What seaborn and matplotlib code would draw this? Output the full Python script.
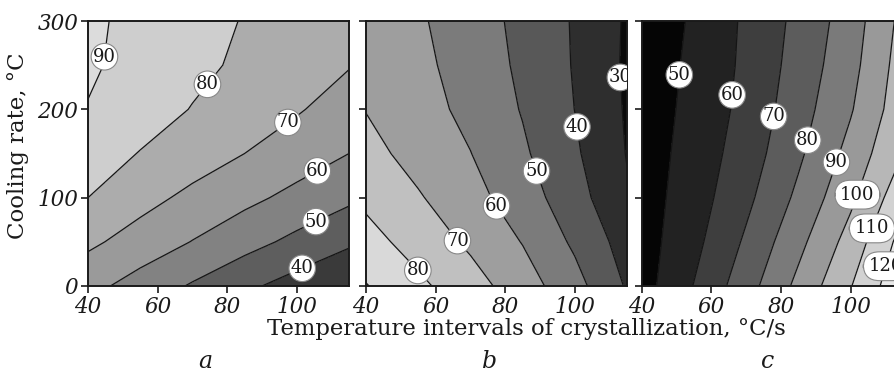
import numpy as np
import matplotlib
matplotlib.use('Agg')
import matplotlib.pyplot as plt
import seaborn as sns

# grid: temperature interval (x) and cooling rate (y)
temp_x = [40, 55, 70, 85, 100, 115]
cool_y = [0, 50, 100, 150, 200, 250, 300]

# panel a values, one row per cooling rate
z_a = [
    [63.0, 56.0, 49.0, 42.0, 36.0, 31.0],
    [72.0, 65.8, 59.7, 53.6, 47.5, 41.5],
    [80.0, 73.4, 67.6, 62.5, 57.3, 52.0],
    [85.0, 79.6, 75.0, 70.0, 65.0, 60.0],
    [89.7, 84.6, 79.6, 75.1, 70.9, 65.5],
    [91.0, 87.6, 82.5, 78.2, 74.4, 70.5],
    [91.5, 87.8, 83.5, 79.5, 76.5, 74.0],
]
# panel b
z_b = [
    [90.5, 82.1, 74.1, 64.7, 53.5, 39.0],
    [83.6, 76.0, 68.2, 59.6, 48.3, 35.7],
    [77.9, 70.9, 63.5, 54.7, 44.1, 31.0],
    [73.2, 66.5, 60.2, 51.5, 41.4, 29.6],
    [69.7, 63.9, 57.4, 49.4, 39.9, 29.0],
    [68.8, 62.5, 55.7, 48.2, 39.3, 28.5],
    [68.0, 61.3, 54.6, 47.5, 39.1, 28.8],
]
# panel c
z_c = [
    [45.9, 60.3, 75.8, 92.5, 109.5, 128.0],
    [45.5, 57.3, 71.5, 87.2, 103.9, 123.6],
    [45.3, 55.3, 67.6, 82.1, 97.9, 116.7],
    [44.8, 54.1, 64.8, 78.2, 93.2, 110.0],
    [44.1, 53.1, 62.9, 75.7, 89.1, 106.2],
    [43.2, 52.4, 62.0, 73.9, 86.6, 104.6],
    [41.8, 51.6, 61.6, 72.6, 84.9, 102.9],
]

levels_a = [40, 50, 60, 70, 80, 90]
levels_b = [30, 40, 50, 60, 70, 80, 90]
levels_c = [50, 60, 70, 80, 90, 100, 110, 120]
labels_b = [30, 40, 50, 60, 70, 80]

x_ticks = [40, 60, 80, 100]
y_ticks = [0, 100, 200, 300]
panel_names = ['a', 'b', 'c']

sns.set_theme(style='ticks')
plt.rcParams['font.family'] = ['DejaVu Serif']

fills = {
    'a': ['#3a3a3a', '#5e5e5e', '#828282', '#9a9a9a', '#acacac', '#cecece', '#dcdcdc'],
    'b': ['#0a0a0a', '#2e2e2e', '#585858', '#7b7b7b', '#9e9e9e', '#c0c0c0', '#d9d9d9', '#e6e6e6'],
    'c': ['#050505', '#222222', '#3e3e3e', '#5c5c5c', '#7a7a7a', '#999999', '#b7b7b7', '#d2d2d2', '#e8e8e8'],
}
# where the circled labels sit (data coords)
label_pos = {
    'a': [(45.8, 259), (75.7, 224), (98, 182), (106.5, 126), (106.2, 67), (102, 16)],
    'b': [(55, 18), (66.5, 52), (78, 92), (88.9, 130), (100.4, 180), (112.5, 236)],
    'c': [(53.6, 238), (66.9, 216), (77.9, 192), (87.8, 165), (96.1, 140),
          (102.3, 103), (107.6, 63), (108.8, 24)],
}

fig = plt.figure(figsize=(8.95, 3.74), dpi=100)
lefts = [88 / 895, 366 / 895, 641.7 / 895]
X, Y = np.meshgrid(temp_x, cool_y)

panels = [(z_a, levels_a, levels_a), (z_b, levels_b, labels_b), (z_c, levels_c, levels_c)]
for i, (z, lev, lab_lev) in enumerate(panels):
    name = panel_names[i]
    ax = fig.add_axes([lefts[i], 88 / 374, 261 / 895, 265 / 374])
    Z = np.array(z)
    bounds = [0] + lev + [200]
    ax.contourf(X, Y, Z, levels=bounds, colors=fills[name])
    cs = ax.contour(X, Y, Z, levels=lev, colors='#151515', linewidths=0.9)
    txts = ax.clabel(cs, levels=lab_lev, inline=False, fmt='%d', fontsize=13,
                     manual=label_pos[name], colors='k')
    for t in txts:
        t.set_rotation(0)
        if len(t.get_text()) > 2:
            t.set_bbox(dict(boxstyle='round,pad=0.3,rounding_size=0.9',
                            fc='white', ec='#888888', lw=0.8))
        else:
            t.set_bbox(dict(boxstyle='circle,pad=0.1', fc='white', ec='#888888', lw=0.8))
    ax.set_xlim(40, 115)
    ax.set_ylim(0, 300)
    ax.set_xticks(x_ticks, [str(v) for v in x_ticks], fontstyle='italic', fontsize=15.5)
    if i == 0:
        ax.set_yticks(y_ticks, [str(v) for v in y_ticks], fontstyle='italic', fontsize=15.5)
    else:
        ax.set_yticks(y_ticks, [])
    ax.tick_params(direction='out', length=5, width=1.2, color='k', pad=2, labelcolor='k')
    for sp in ax.spines.values():
        sp.set_color('k')
        sp.set_linewidth(1.4)
    fig.text([205, 490, 768][i] / 895, 1 - 361 / 374, name, fontstyle='italic',
             fontsize=17, ha='center', va='center', color='k')

fig.text(526 / 895, 1 - 329 / 374, 'Temperature intervals of crystallization, \u00b0C/s',
         fontsize=16.4, ha='center', va='center', color='k')
fig.text(18 / 895, 1 - 146 / 374, 'Cooling rate, \u00b0C', fontsize=16.5, rotation=90,
         ha='center', va='center', color='k')

fig.savefig('out.png', dpi=100)
